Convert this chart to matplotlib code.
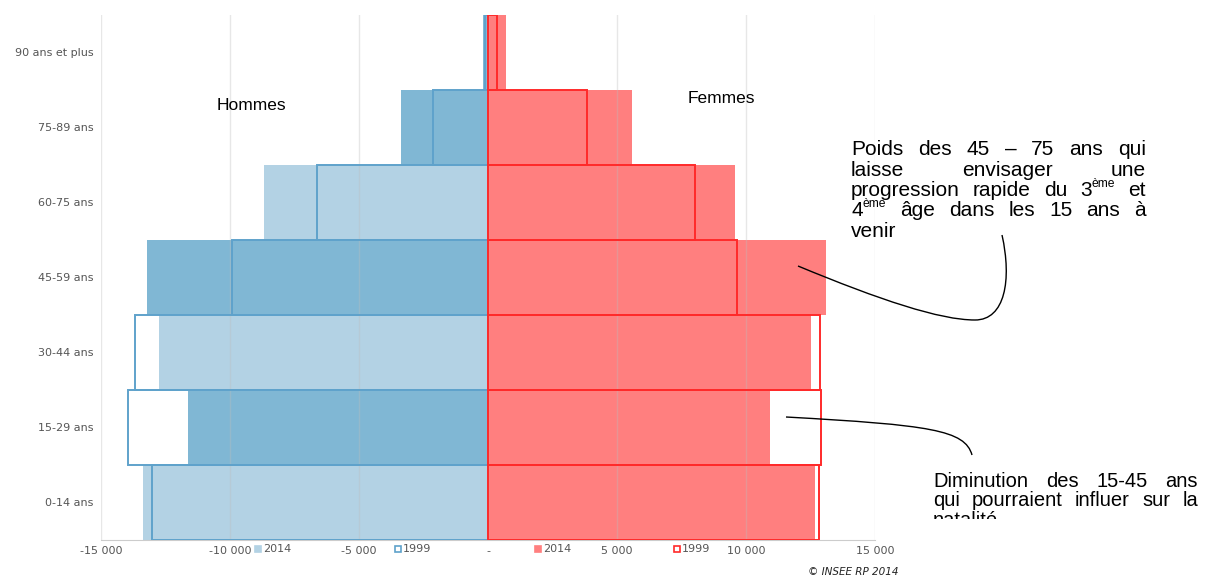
import matplotlib
matplotlib.use("Agg")
import matplotlib.pyplot as plt
from matplotlib.path import Path
from matplotlib.patches import PathPatch, Rectangle
from matplotlib.transforms import Bbox, TransformedBbox

# Population by age group (bottom to top)
age_groups = ["0-14 ans", "15-29 ans", "30-44 ans", "45-59 ans",
              "60-75 ans", "75-89 ans", "90 ans et plus"]
men_2014 = [13380, 11630, 12750, 13220, 8680, 3370, 200]
men_1999 = [13030, 13950, 13680, 9920, 6630, 2130, 120]
women_2014 = [12670, 10930, 12520, 13100, 9570, 5580, 700]
women_1999 = [12820, 12900, 12870, 9650, 8020, 3840, 350]

x_ticks = [-15000, -10000, -5000, 0, 5000, 10000, 15000]
x_tick_labels = ["-15 000", "-10 000", "-5 000", "-", "5 000", "10 000", "15 000"]

BLUE_LIGHT = "#b3d2e4"
BLUE_DARK = "#80b7d4"
BLUE_EDGE = "#5fa2cb"
RED_FILL = "#ff7f7f"
RED_EDGE = "#ff2a2a"
men_fill = [BLUE_LIGHT, BLUE_DARK, BLUE_LIGHT, BLUE_DARK, BLUE_LIGHT, BLUE_DARK, BLUE_DARK]

W, H = 1205, 579
fig = plt.figure(figsize=(W / 100, H / 100), dpi=100)


def fx(px):
    return px / W


def fy(py):
    return 1 - py / H


ax = fig.add_axes([fx(101), fy(539.5), (875 - 101) / W, 525 / H])
ypos = list(range(len(age_groups)))

ax.barh(ypos, [-v for v in men_2014], height=1, color=men_fill, lw=0, zorder=1)
ax.barh(ypos, women_2014, height=1, color=RED_FILL, lw=0, zorder=1)
ax.barh(ypos, [-v for v in men_1999], height=1, facecolor="none",
        edgecolor=BLUE_EDGE, lw=1.4, zorder=3)
ax.barh(ypos, women_1999, height=1, facecolor="none",
        edgecolor=RED_EDGE, lw=1.4, zorder=3)

ax.set_xlim(-15000, 15000)
ax.set_ylim(-0.5, len(age_groups) - 0.5)
ax.set_xticks(x_ticks)
ax.set_xticklabels(x_tick_labels)
ax.set_yticks(ypos)
ax.set_yticklabels(age_groups)
ax.tick_params(length=0, labelsize=8, labelcolor="#555555")
ax.tick_params(axis="y", pad=5.5)
ax.tick_params(axis="x", pad=5)
ax.set_axisbelow(False)
ax.xaxis.grid(True, color="#bdbdbd", alpha=0.35, lw=1)
for side in ["left", "right", "top"]:
    ax.spines[side].set_visible(False)
ax.spines["bottom"].set_color("#cccccc")

# Side labels
fig.text(fx(251), fy(105), "Hommes", ha="center", va="center", fontsize=12.5,
         family="Liberation Sans")
fig.text(fx(721), fy(99), "Femmes", ha="center", va="center", fontsize=12.5,
         family="Liberation Sans")

# Inline legend along the axis
legend_items = [
    (258, BLUE_LIGHT, True, "2014"),
    (398, BLUE_EDGE, False, "1999"),
    (538, RED_FILL, True, "2014"),
    (677, RED_EDGE, False, "1999"),
]
for px, col, filled, label in legend_items:
    sq = Rectangle((fx(px - 3), fy(552)), 6 / W, 6 / H, transform=fig.transFigure,
                   facecolor=col if filled else "white", edgecolor=col,
                   lw=1.2)
    fig.add_artist(sq)
    fig.text(fx(px + 5), fy(549), label, ha="left", va="center", fontsize=8,
             color="#555555")

fig.text(fx(898), fy(572), "\u00a9 INSEE RP 2014", ha="right", va="center",
         fontsize=7.5, style="italic", color="#222222")

renderer = fig.canvas.get_renderer()


def justified_block(lines, x0, x1, base_y, leading, size, clip=None):
    fam = "Liberation Sans"
    for i, (words, justify) in enumerate(lines):
        by = base_y + i * leading
        placed = []
        for word in words:
            segs = []
            for s, sup in word:
                t = fig.text(0, fy(by - (size * 0.62 if sup else 0)), s,
                             fontsize=size * 0.58 if sup else size,
                             family=fam, ha="left", va="baseline")
                if clip is not None:
                    t.set_clip_box(clip)
                    t.set_clip_on(True)
                w = t.get_window_extent(renderer).width
                segs.append((t, w))
            placed.append(segs)
        widths = [sum(w for _, w in segs) for segs in placed]
        probe = fig.text(0, 0, "a a", fontsize=size, family=fam)
        probe2 = fig.text(0, 0, "aa", fontsize=size, family=fam)
        space = (probe.get_window_extent(renderer).width
                 - probe2.get_window_extent(renderer).width)
        probe.remove()
        probe2.remove()
        if justify and len(placed) > 1:
            gap = max((x1 - x0 - sum(widths)) / (len(placed) - 1), space * 0.8)
        else:
            gap = space
        x = x0
        for segs in placed:
            for t, w in segs:
                t.set_x(fx(x))
                x += w
            x += gap


def words(text):
    return [[(w, False)] for w in text.split()]


block1 = [
    (words("Poids des 45 \u2013 75 ans qui"), True),
    (words("laisse envisager une"), True),
    (words("progression rapide du") + [[("3", False), ("\u00e8me", True)]]
     + words("et"), True),
    ([[("4", False), ("\u00e8me", True)]] + words("\u00e2ge dans les 15 ans \u00e0"), True),
    (words("venir"), False),
]
justified_block(block1, 851, 1146, 155, 20.5, 15)

clip2 = TransformedBbox(Bbox.from_extents(0, fy(519), 1, 1), fig.transFigure)
block2 = [
    (words("Diminution des 15-45 ans"), True),
    (words("qui pourraient influer sur la"), True),
    (words("natalit\u00e9"), False),
]
justified_block(block2, 933, 1198, 487, 19.5, 14.5, clip=clip2)


def curve(points, codes):
    verts = [(fx(px), fy(py)) for px, py in points]
    fig.add_artist(PathPatch(Path(verts, codes), transform=fig.transFigure,
                             facecolor="none", edgecolor="black", lw=1))


C = Path.CURVE4
curve([(798, 266), (880, 300), (940, 320), (975, 320),
       (1005, 320), (1012, 280), (1002, 235)],
      [Path.MOVETO, C, C, C, C, C, C])
curve([(786, 417), (930, 425), (965, 430), (972, 455)],
      [Path.MOVETO, C, C, C])

fig.savefig("out.png", dpi=100)
